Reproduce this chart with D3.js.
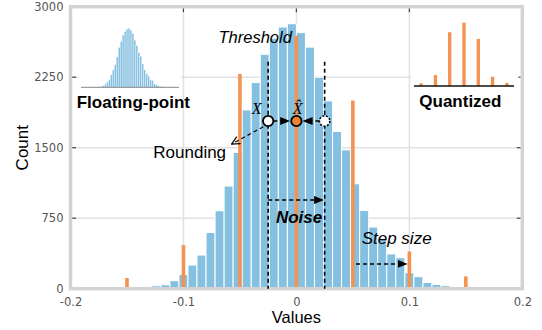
<!DOCTYPE html>
<html>
<head>
<meta charset="utf-8">
<script src="https://cdn.jsdelivr.net/npm/d3@7"></script>
<style>
  body { margin: 0; background: #fff; }
  svg { display: block; }
</style>
</head>
<body>
<div id="chart"></div>
<script>
// histogram of the float values (bin starts, width 0.008)
const binStarts = [-0.128, -0.120, -0.112, -0.104, -0.096, -0.088, -0.080, -0.072, -0.064, -0.056, -0.048,
  -0.040, -0.032, -0.024, -0.016, -0.008, 0.000, 0.008, 0.016, 0.024, 0.032, 0.040, 0.048, 0.056,
  0.064, 0.072, 0.080, 0.088, 0.096, 0.104, 0.112, 0.120, 0.128];
const blueCounts = [32, 42, 85, 150, 252, 358, 598, 829, 1092, 1450, 1902,
  2193, 2494, 2664, 2784, 2819, 2724, 2570, 2250, 1998, 1672, 1477, 1116, 832,
  656, 535, 370, 330, 170, 128, 67, 46, 32];
const binWidth = 0.008;

// quantized levels (step 0.05)
const quantLevels = [-0.15, -0.1, -0.05, 0, 0.05, 0.1, 0.15];
const quantCounts = [114, 464, 2285, 2692, 2001, 396, 131];

const xTicks = [-0.2, -0.1, 0, 0.1, 0.2];
const yTicks = [0, 750, 1500, 2250, 3000];
const threshold = 0.025;

(function () {
  const blue = '#85c0e1';
  const orange = '#f39352';
  const textFont = '"Liberation Sans", Arial, sans-serif';
  const tickFont = '"DejaVu Sans", sans-serif';
  const width = 542, height = 330;

  const svg = d3.select('#chart').append('svg')
    .attr('width', width)
    .attr('height', height);

  svg.append('rect')
    .attr('width', width)
    .attr('height', height)
    .attr('fill', '#fff');

  const x = d3.scaleLinear().domain([-0.2, 0.2]).range([70.5, 522.3]);
  const y = d3.scaleLinear().domain([0, 3000]).range([288.7, 6.7]);

  const bins = binStarts.map(function (d, i) {
    return { x0: d, x1: d + binWidth, count: blueCounts[i] };
  });
  const quant = quantLevels.map(function (d, i) {
    return { v: d, count: quantCounts[i] };
  });

  // arrow heads
  const defs = svg.append('defs');
  defs.append('marker')
    .attr('id', 'arrow-fill')
    .attr('viewBox', '0 0 10 8')
    .attr('refX', 6)
    .attr('refY', 4)
    .attr('markerWidth', 10)
    .attr('markerHeight', 8)
    .attr('markerUnits', 'userSpaceOnUse')
    .attr('orient', 'auto')
    .append('path')
    .attr('d', 'M0,0L10,4L0,8Z')
    .attr('fill', '#000');

  defs.append('marker')
    .attr('id', 'arrow-open')
    .attr('viewBox', '-1 -1 10 10')
    .attr('refX', 8)
    .attr('refY', 4)
    .attr('markerWidth', 10)
    .attr('markerHeight', 10)
    .attr('markerUnits', 'userSpaceOnUse')
    .attr('orient', 'auto')
    .append('path')
    .attr('d', 'M0,0L8,4L0,8')
    .attr('fill', 'none')
    .attr('stroke', '#000')
    .attr('stroke-width', 1.2);

  // grid
  const grid = svg.append('g').attr('class', 'grid');
  grid.selectAll('line.gx')
    .data(xTicks.slice(1, -1))
    .enter()
    .append('line')
    .attr('class', 'gx')
    .attr('x1', function (d) { return x(d); })
    .attr('x2', function (d) { return x(d); })
    .attr('y1', y(3000))
    .attr('y2', y(0))
    .attr('stroke', '#e2e2e2')
    .attr('stroke-width', 1.5);

  grid.selectAll('line.gy')
    .data(yTicks.slice(1, -1))
    .enter()
    .append('line')
    .attr('class', 'gy')
    .attr('x1', x(-0.2))
    .attr('x2', x(0.2))
    .attr('y1', function (d) { return y(d); })
    .attr('y2', function (d) { return y(d); })
    .attr('stroke', '#e2e2e2')
    .attr('stroke-width', 1.5);

  // float histogram
  svg.append('g')
    .selectAll('rect')
    .data(bins)
    .enter()
    .append('rect')
    .attr('x', function (d) { return x(d.x0); })
    .attr('width', function (d) { return x(d.x1) - x(d.x0); })
    .attr('y', function (d) { return y(d.count); })
    .attr('height', function (d) { return y(0) - y(d.count); })
    .attr('fill', blue)
    .attr('stroke', '#fff')
    .attr('stroke-width', 1);

  // quantized bars
  const qw = 0.0032;
  svg.append('g')
    .selectAll('rect')
    .data(quant)
    .enter()
    .append('rect')
    .attr('x', function (d) { return x(d.v - qw / 2); })
    .attr('width', x(qw) - x(0))
    .attr('y', function (d) { return y(d.count); })
    .attr('height', function (d) { return y(0) - y(d.count); })
    .attr('fill', orange);

  // frame
  svg.append('rect')
    .attr('x', x(-0.2))
    .attr('y', y(3000))
    .attr('width', x(0.2) - x(-0.2))
    .attr('height', y(0) - y(3000))
    .attr('fill', 'none')
    .attr('stroke', '#d3d3d3')
    .attr('stroke-width', 3.5);

  // small inward ticks
  const ticks = svg.append('g').attr('class', 'ticks');
  ticks.selectAll('line.tl')
    .data(yTicks.slice(1, -1))
    .enter()
    .append('line')
    .attr('x1', x(-0.2) + 1.8)
    .attr('x2', x(-0.2) + 5.5)
    .attr('y1', function (d) { return y(d); })
    .attr('y2', function (d) { return y(d); });
  ticks.selectAll('line.tr')
    .data(yTicks.slice(1, -1))
    .enter()
    .append('line')
    .attr('x1', x(0.2) - 1.8)
    .attr('x2', x(0.2) - 5.5)
    .attr('y1', function (d) { return y(d); })
    .attr('y2', function (d) { return y(d); });
  ticks.selectAll('line.tt')
    .data(xTicks.slice(1, -1))
    .enter()
    .append('line')
    .attr('x1', function (d) { return x(d); })
    .attr('x2', function (d) { return x(d); })
    .attr('y1', y(3000) + 1.8)
    .attr('y2', y(3000) + 5.5);
  ticks.selectAll('line')
    .attr('stroke', '#444')
    .attr('stroke-width', 1.2);

  // axes labels
  const yAxis = svg.append('g')
    .attr('transform', 'translate(' + x(-0.2) + ',0)')
    .call(d3.axisLeft(y).tickValues(yTicks).tickSize(0).tickPadding(7)
      .tickFormat(function (d) { return String(d); }));
  const xAxis = svg.append('g')
    .attr('transform', 'translate(0,' + y(0) + ')')
    .call(d3.axisBottom(x).tickValues(xTicks).tickSize(0).tickPadding(9)
      .tickFormat(function (d) { return String(d); }));
  [xAxis, yAxis].forEach(function (a) {
    a.select('.domain').remove();
    a.selectAll('text')
      .style('font-family', tickFont)
      .style('font-size', '11.5px')
      .style('fill', '#555');
  });

  svg.append('text')
    .text('Count')
    .attr('transform', 'translate(28,' + ((y(0) + y(3000)) / 2) + ') rotate(-90)')
    .style('font-family', textFont)
    .style('font-size', '17px')
    .style('text-anchor', 'middle');

  svg.append('text')
    .text('Values')
    .attr('x', x(0))
    .attr('y', 322.5)
    .style('font-family', textFont)
    .style('font-size', '16.5px')
    .style('text-anchor', 'middle');

  // inset: floating-point
  const fx = d3.scaleLinear().domain([-0.2, 0.2]).range([81, 179]);
  const fy = d3.scaleLinear().domain([0, 2960]).range([87.3, 25.3]);
  const floatInset = svg.append('g').attr('class', 'inset-float');
  floatInset.append('rect')
    .attr('x', 79).attr('y', 18).attr('width', 102).attr('height', 71)
    .attr('fill', '#fff');
  floatInset.selectAll('rect.bar')
    .data(bins)
    .enter()
    .append('rect')
    .attr('class', 'bar')
    .attr('x', function (d) { return fx(d.x0); })
    .attr('width', function (d) { return fx(d.x1) - fx(d.x0); })
    .attr('y', function (d) { return fy(d.count); })
    .attr('height', function (d) { return fy(0) - fy(d.count); })
    .attr('fill', blue)
    .attr('stroke', '#fff')
    .attr('stroke-width', 0.35);
  floatInset.append('line')
    .attr('x1', fx(-0.2)).attr('x2', fx(0.2))
    .attr('y1', fy(0)).attr('y2', fy(0))
    .attr('stroke', '#888')
    .attr('stroke-width', 1);

  // inset: quantized
  const qx = d3.scaleLinear().domain([-0.175, 0.175]).range([414, 514]);
  const qy = d3.scaleLinear().domain([0, 2827]).range([86, 19.5]);
  const quantInset = svg.append('g').attr('class', 'inset-quant');
  quantInset.append('rect')
    .attr('x', 411.5).attr('y', 14).attr('width', 107).attr('height', 74)
    .attr('fill', '#fff');
  quantInset.selectAll('rect.bar')
    .data(quant)
    .enter()
    .append('rect')
    .attr('class', 'bar')
    .attr('x', function (d) { return qx(d.v) - 1.7; })
    .attr('width', 3.4)
    .attr('y', function (d) { return qy(d.count); })
    .attr('height', function (d) { return qy(0) - qy(d.count); })
    .attr('fill', orange);
  quantInset.append('line')
    .attr('x1', qx(-0.175)).attr('x2', qx(0.175))
    .attr('y1', qy(0)).attr('y2', qy(0))
    .attr('stroke', '#111')
    .attr('stroke-width', 1.5);

  // annotations
  const ann = svg.append('g').attr('class', 'annotation');
  const dash = '4,3';
  const markerY = 1784;

  // threshold lines
  ann.selectAll('line.threshold')
    .data([-threshold, threshold])
    .enter()
    .append('line')
    .attr('class', 'threshold')
    .attr('x1', function (d) { return x(d); })
    .attr('x2', function (d) { return x(d); })
    .attr('y1', y(2415))
    .attr('y2', y(0))
    .attr('stroke', '#000')
    .attr('stroke-width', 1.6)
    .attr('stroke-dasharray', dash);

  // noise arrow
  ann.append('line')
    .attr('x1', x(-threshold))
    .attr('x2', x(threshold) - 4.5)
    .attr('y1', y(944))
    .attr('y2', y(944))
    .attr('stroke', '#000')
    .attr('stroke-width', 1.6)
    .attr('stroke-dasharray', dash)
    .attr('marker-end', 'url(#arrow-fill)');

  // step size arrow
  ann.append('line')
    .attr('x1', x(0.0528))
    .attr('x2', x(0.0985) - 4)
    .attr('y1', y(263))
    .attr('y2', y(263))
    .attr('stroke', '#000')
    .attr('stroke-width', 1.6)
    .attr('stroke-dasharray', dash)
    .attr('marker-end', 'url(#arrow-fill)');

  // rounding arrow
  ann.append('line')
    .attr('x1', x(-0.0293))
    .attr('y1', y(1723))
    .attr('x2', x(-0.0573))
    .attr('y2', y(1539))
    .attr('stroke', '#000')
    .attr('stroke-width', 1.2)
    .attr('stroke-dasharray', dash)
    .attr('marker-end', 'url(#arrow-open)');

  // arrows into X hat
  const r = 5.2;
  ann.append('line')
    .attr('x1', x(-threshold) + r)
    .attr('x2', x(0) - r - 5)
    .attr('y1', y(markerY))
    .attr('y2', y(markerY))
    .attr('stroke', '#000')
    .attr('stroke-width', 1.6)
    .attr('stroke-dasharray', dash)
    .attr('marker-end', 'url(#arrow-fill)');
  ann.append('line')
    .attr('x1', x(threshold) - r)
    .attr('x2', x(0) + r + 5)
    .attr('y1', y(markerY))
    .attr('y2', y(markerY))
    .attr('stroke', '#000')
    .attr('stroke-width', 1.6)
    .attr('stroke-dasharray', dash)
    .attr('marker-end', 'url(#arrow-fill)');

  ann.append('circle')
    .attr('cx', x(-threshold)).attr('cy', y(markerY)).attr('r', r)
    .attr('fill', '#fff').attr('stroke', '#000').attr('stroke-width', 1.8);
  ann.append('circle')
    .attr('cx', x(0)).attr('cy', y(markerY)).attr('r', r)
    .attr('fill', '#ee8234').attr('stroke', '#000').attr('stroke-width', 1.8);
  ann.append('circle')
    .attr('cx', x(threshold)).attr('cy', y(markerY)).attr('r', r)
    .attr('fill', '#fff').attr('stroke', '#000').attr('stroke-width', 1.6)
    .attr('stroke-dasharray', '2,1.6');

  const mathFont = '"Liberation Serif", "Times New Roman", serif';
  ann.append('text')
    .text('X')
    .attr('x', x(-0.0396))
    .attr('y', y(1858))
    .style('font-family', mathFont)
    .style('font-style', 'italic')
    .style('font-size', '16px');
  ann.append('text')
    .text('X\u0302')
    .attr('x', x(-0.0033))
    .attr('y', y(1858))
    .style('font-family', mathFont)
    .style('font-style', 'italic')
    .style('font-size', '16px');

  const labels = [
    { t: 'Threshold', vx: -0.069, vy: 2611, style: 'italic', weight: 'normal', size: '16.5px' },
    { t: 'Rounding', vx: -0.1267, vy: 1387, style: 'normal', weight: 'normal', size: '17px' },
    { t: 'Floating-point', vx: -0.1945, vy: 1919, style: 'normal', weight: 'bold', size: '17px' },
    { t: 'Quantized', vx: 0.1088, vy: 1936, style: 'normal', weight: 'bold', size: '17px' },
    { t: 'Noise', vx: -0.0181, vy: 702, style: 'italic', weight: 'bold', size: '17px' },
    { t: 'Step size', vx: 0.0578, vy: 476, style: 'italic', weight: 'normal', size: '17px' }
  ];
  ann.selectAll('text.label')
    .data(labels)
    .enter()
    .append('text')
    .attr('class', 'label')
    .text(function (d) { return d.t; })
    .attr('x', function (d) { return x(d.vx); })
    .attr('y', function (d) { return y(d.vy); })
    .style('font-family', textFont)
    .style('font-style', function (d) { return d.style; })
    .style('font-weight', function (d) { return d.weight; })
    .style('font-size', function (d) { return d.size; });
}());
</script>
</body>
</html>
